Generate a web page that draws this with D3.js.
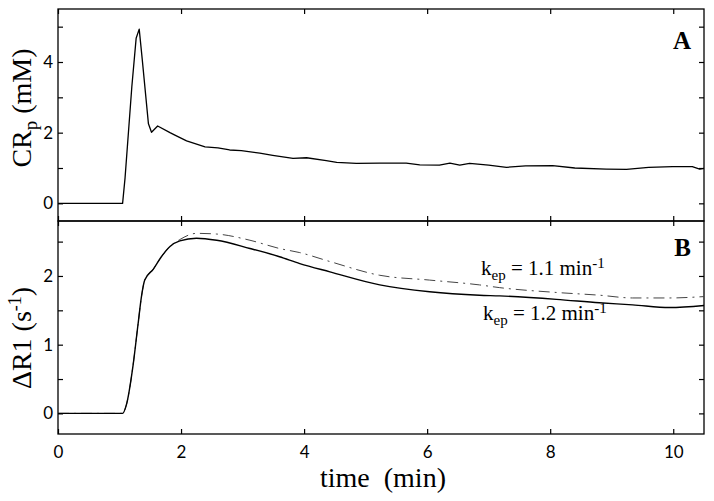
<!DOCTYPE html>
<html>
<head>
<meta charset="utf-8">
<script src="https://cdn.jsdelivr.net/npm/d3@7"></script>
<style>
	body { margin: 0; background: #fff; }
	.tick text { font-family: Lato, "Open Sans", sans-serif; font-size: 17px; fill: #000; }
	.tick line { stroke: #000; stroke-width: 1.2; }
	.serif { font-family: "Liberation Serif", "Times New Roman", serif; fill: #000; }
</style>
</head>
<body>
<script>
// plasma concentration (panel A)
var timeA = [0, 0.6, 1.05, 1.09, 1.2, 1.27, 1.32, 1.37, 1.47, 1.52, 1.62, 1.82, 1.9, 2.09, 2.39, 2.6, 2.79, 2.98,
	3.28, 3.49, 3.82, 4.04, 4.36, 4.53, 4.85, 5.23, 5.66, 5.88, 6.2, 6.37, 6.53, 6.69, 7.0, 7.29, 7.6,
	8.04, 8.4, 8.91, 9.24, 9.6, 9.99, 10.31, 10.43, 10.5];
var crp = [0, 0, 0, 0.72, 3.3, 4.67, 4.93, 4.06, 2.25, 2.01, 2.19, 2.0, 1.93, 1.77, 1.6, 1.57, 1.51, 1.49,
	1.42, 1.36, 1.27, 1.29, 1.21, 1.16, 1.13, 1.14, 1.14, 1.09, 1.08, 1.14, 1.08, 1.13, 1.08, 1.02, 1.06,
	1.07, 1.0, 0.97, 0.96, 1.02, 1.04, 1.04, 0.97, 0.99];

// delta R1 (panel B), kep = 1.2 (solid) and kep = 1.1 (dash-dot)
var timeB = [0, 1.05, 1.11, 1.22, 1.3, 1.36, 1.41, 1.55, 1.68, 1.82, 1.98, 2.25, 2.58, 3.12, 3.6, 3.93,
	4.42, 5.23, 6.04, 6.85, 7.18, 8.1, 8.8, 9.34, 9.94, 10.5];
var dR1_12 = [0, 0, 0.12, 0.7, 1.29, 1.72, 1.94, 2.1, 2.28, 2.43, 2.51, 2.55, 2.52, 2.4, 2.28, 2.18,
	2.06, 1.87, 1.77, 1.72, 1.71, 1.66, 1.61, 1.58, 1.54, 1.57];
var dR1_11 = [0, 0, 0.12, 0.7, 1.29, 1.72, 1.94, 2.1, 2.28, 2.43, 2.53, 2.62, 2.61, 2.52, 2.4, 2.34,
	2.21, 2.01, 1.94, 1.87, 1.83, 1.76, 1.72, 1.68, 1.68, 1.7];

var xTicks = [0, 2, 4, 6, 8, 10];
var yTicksA = [0, 1, 2, 3, 4, 5];
var yTicksB = [0, 0.5, 1, 1.5, 2, 2.5];

var W = 714, H = 501;
var left = 58, right = 704;

var svg = d3.select('body').append('svg')
	.attr('width', W)
	.attr('height', H);

var x = d3.scaleLinear().domain([0, 10.5]).range([left, right]);
var yA = d3.scaleLinear().domain([-0.5, 5.5]).range([221, 9]);
var yB = d3.scaleLinear().domain([-0.3, 2.8]).range([434, 221]);

function drawPanel(y, yTicks, labelEvery, showX){
	var top = y.range()[1], bottom = y.range()[0];
	var fmt = function(d){ return (d % labelEvery === 0) ? d : ''; };

	svg.append('g')
		.attr('transform', 'translate(' + left + ',0)')
		.call(d3.axisLeft(y).tickValues(yTicks).tickSize(-5).tickSizeOuter(0).tickPadding(5).tickFormat(fmt))
		.call(function(g){ g.select('.domain').remove(); });
	svg.append('g')
		.attr('transform', 'translate(' + right + ',0)')
		.call(d3.axisRight(y).tickValues(yTicks).tickSize(-5).tickSizeOuter(0).tickFormat(''))
		.call(function(g){ g.select('.domain').remove(); });
	svg.append('g')
		.attr('transform', 'translate(0,' + top + ')')
		.call(d3.axisTop(x).tickValues(xTicks).tickSize(-5).tickSizeOuter(0).tickFormat(''))
		.call(function(g){ g.select('.domain').remove(); });
	svg.append('g')
		.attr('transform', 'translate(0,' + bottom + ')')
		.call(d3.axisBottom(x).tickValues(xTicks).tickSize(-5).tickSizeOuter(0).tickPadding(12)
			.tickFormat(showX ? d3.format('d') : ''))
		.call(function(g){ g.select('.domain').remove(); });

	// frame
	svg.append('rect')
		.attr('x', left).attr('y', top)
		.attr('width', right - left).attr('height', bottom - top)
		.attr('fill', 'none')
		.attr('stroke', '#000')
		.attr('stroke-width', 1.3);
}

drawPanel(yA, yTicksA, 2, false);
drawPanel(yB, yTicksB, 1, true);

// curves
var lineA = d3.line()
	.x(function(d, i){ return x(timeA[i]); })
	.y(function(d){ return yA(d); });
svg.append('path')
	.attr('d', lineA(crp))
	.attr('fill', 'none')
	.attr('stroke', '#000')
	.attr('stroke-width', 1.3)
	.attr('stroke-linejoin', 'round');

var lineB = d3.line()
	.curve(d3.curveMonotoneX)
	.x(function(d, i){ return x(timeB[i]); })
	.y(function(d){ return yB(d); });
svg.append('path')
	.attr('d', lineB(dR1_11))
	.attr('fill', 'none')
	.attr('stroke', '#444')
	.attr('stroke-width', 1)
	.attr('stroke-dasharray', '11,5,2,5');
svg.append('path')
	.attr('d', lineB(dR1_12))
	.attr('fill', 'none')
	.attr('stroke', '#000')
	.attr('stroke-width', 1.4);

// panel letters
svg.append('text').attr('class', 'serif')
	.attr('x', 691).attr('y', 49)
	.attr('text-anchor', 'end')
	.style('font-size', '25px').style('font-weight', 'bold')
	.text('A');
svg.append('text').attr('class', 'serif')
	.attr('x', 691).attr('y', 256)
	.attr('text-anchor', 'end')
	.style('font-size', '25px').style('font-weight', 'bold')
	.text('B');

// axis titles
var yl1 = svg.append('text').attr('class', 'serif')
	.attr('transform', 'translate(31,108) rotate(-90)')
	.attr('text-anchor', 'middle')
	.style('font-size', '28px');
yl1.append('tspan').text('CR');
yl1.append('tspan').attr('dy', 6).style('font-size', '19px').text('p');
yl1.append('tspan').attr('dy', -6).text(' (mM)');

var yl2 = svg.append('text').attr('class', 'serif')
	.attr('transform', 'translate(31,338) rotate(-90)')
	.attr('text-anchor', 'middle')
	.style('font-size', '28px');
yl2.append('tspan').text('\u0394R1 (s');
yl2.append('tspan').attr('dy', -10).style('font-size', '18px').text('-1');
yl2.append('tspan').attr('dy', 10).text(')');

svg.append('text').attr('class', 'serif')
	.attr('x', 383).attr('y', 487)
	.attr('text-anchor', 'middle')
	.style('font-size', '28px')
	.style('white-space', 'pre')
	.text('time\u00a0 (min)');

// kep annotations
function kepLabel(xPos, yPos, val){
	var t = svg.append('text').attr('class', 'serif')
		.attr('x', xPos).attr('y', yPos)
		.style('font-size', '21px');
	t.append('tspan').text('k');
	t.append('tspan').attr('dy', 5).style('font-size', '15px').text('ep');
	t.append('tspan').attr('dy', -5).text(' = ' + val + ' min');
	t.append('tspan').attr('dy', -7).style('font-size', '15px').text('-1');
}
kepLabel(481, 275, '1.1');
kepLabel(483, 320, '1.2');
</script>
</body>
</html>
